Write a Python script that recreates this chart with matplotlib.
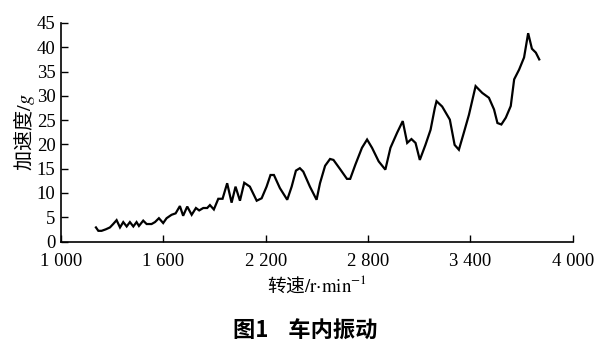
import matplotlib
matplotlib.use("Agg")
import matplotlib.pyplot as plt
from matplotlib.ticker import FuncFormatter

plt.rcParams['mathtext.fontset'] = 'stix'

rpm = [1205, 1219, 1238, 1262, 1287, 1306, 1326, 1346, 1365, 1385, 1404, 1424, 1443, 1457,
       1482, 1502, 1531, 1551, 1574, 1599, 1619, 1648, 1672, 1697, 1716, 1740, 1766, 1791,
       1810, 1834, 1857, 1873, 1896, 1922, 1947, 1974, 2000, 2023, 2049, 2074, 2107, 2147,
       2176, 2205, 2228, 2248, 2283, 2326, 2352, 2377, 2400, 2420, 2459, 2498, 2518, 2548,
       2577, 2597, 2636, 2676, 2695, 2725, 2764, 2794, 2823, 2862, 2901, 2931, 2970, 3003,
       3029, 3054, 3078, 3103, 3136, 3166, 3191, 3201, 3234, 3279, 3307, 3332, 3361, 3391,
       3430, 3469, 3508, 3538, 3558, 3581, 3607, 3636, 3656, 3685, 3714, 3738, 3760, 3783,
       3803]
accel = [2.9, 2.2, 2.2, 2.5, 2.9, 3.6, 4.4, 2.9, 4.0, 3.1, 4.0, 3.1, 4.0, 3.2,
         4.3, 3.6, 3.6, 4.0, 4.8, 3.8, 4.8, 5.5, 5.8, 7.3, 5.3, 7.2, 5.5, 6.9,
         6.4, 6.9, 6.9, 7.5, 6.6, 8.8, 8.8, 12.0, 8.0, 11.3, 8.4, 12.1, 11.3, 8.4,
         8.9, 11.3, 13.7, 13.7, 11.0, 8.6, 11.3, 14.6, 15.1, 14.4, 11.3, 8.6, 12.0, 15.6,
         17.0, 16.8, 14.9, 12.9, 12.9, 15.8, 19.3, 21.0, 19.3, 16.5, 14.8, 19.3, 22.4, 24.8,
         20.3, 21.1, 20.3, 16.8, 19.9, 23.0, 27.5, 28.9, 27.8, 25.1, 19.9, 18.9, 22.4, 26.1,
         32.0, 30.6, 29.6, 27.2, 24.4, 24.1, 25.5, 27.9, 33.4, 35.4, 37.9, 42.9, 39.7, 38.9,
         37.5]

x_ticks = [1000, 1600, 2200, 2800, 3400, 4000]
y_ticks = [0, 5, 10, 15, 20, 25, 30, 35, 40, 45]

fig = plt.figure(figsize=(6.14, 3.56), dpi=100)
ax = fig.add_axes([0.0993, 0.3216, 0.8337, 0.6138])
ax.plot(rpm, accel, color='black', linewidth=1.6, solid_joinstyle='miter')
ax.set_xlim(1000, 4000)
ax.set_ylim(0, 45)
ax.set_xticks(x_ticks)
ax.set_yticks(y_ticks)
ax.xaxis.set_major_formatter(FuncFormatter(lambda v, p: f"{int(v):,}".replace(",", " ")))
ax.spines['top'].set_visible(False)
ax.spines['right'].set_visible(False)
for s in ('left', 'bottom'):
    ax.spines[s].set_linewidth(1.2)
ax.tick_params(axis='both', direction='in', length=5, width=1.0, labelsize=13.5)
ax.tick_params(axis='x', pad=8)
ax.tick_params(axis='y', pad=4)
for lab in ax.get_xticklabels() + ax.get_yticklabels():
    lab.set_family('Liberation Serif')

ax.set_ylabel('加速度$/g$', family=['Noto Sans CJK SC'], fontsize=14.5, labelpad=0)
ax.set_xlabel(r'转速$/\mathrm{r{\cdot}min^{-1}}$', family=['Noto Sans CJK SC'],
              fontsize=13.5, labelpad=4)
fig.text(0.497, 0.070, '图1    车内振动', family=['Noto Sans CJK SC'], fontsize=16,
         fontweight='bold', ha='center', va='center')

fig.savefig('out.png', dpi=100)
